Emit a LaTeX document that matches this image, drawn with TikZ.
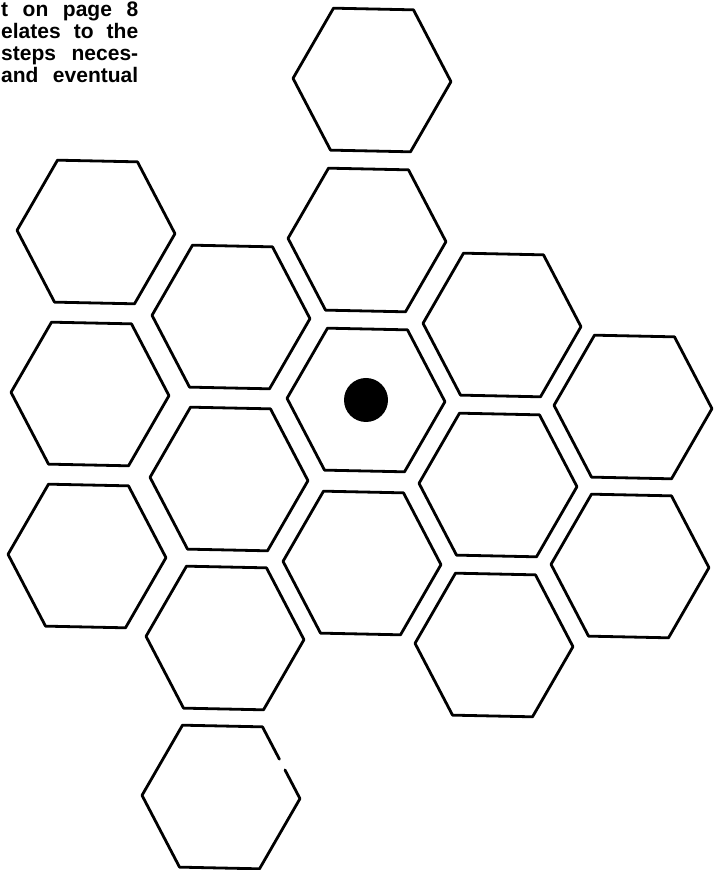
\documentclass[tikz,border=0pt]{standalone}
\usepackage{fontspec}
\setmainfont{Liberation Sans}
\begin{document}
\begin{tikzpicture}[x=1pt,y=1pt,
  hexline/.style={line width=2.8pt,line join=round,line cap=round},
  bodytext/.style={anchor=base west,inner sep=0pt,font=\fontsize{21}{22}\selectfont\bfseries},
  hexcell/.pic={\draw[hexline,rotate=-1.2] (-79,0) -- (-40,71) -- (40,71) -- (79,0) -- (40,-71) -- (-40,-71) -- cycle;}
]
\useasboundingbox (0,0) rectangle (717,870);
% text (screen y -> 870 - y)
\node[bodytext] (t1) at (1,853.5) {\makebox[137pt][s]{t on page 8}};
\node[bodytext] (t2) at (1,831.5) {\makebox[137pt][s]{elates to the}};
\node[bodytext] (t3) at (1,809.5) {\makebox[137pt][s]{steps neces-}};
\node[bodytext] (t4) at (1,787.5) {\makebox[137pt][s]{and eventual}};
% hexagons: centre (x, 870 - y)
\pic (h1) at (372,790) {hexcell};
\pic (h2) at (367,630) {hexcell};
\pic (h3) at (366,470) {hexcell};
\pic (h4) at (362,307) {hexcell};
\pic (h5) at (502,545) {hexcell};
\pic (h6) at (498,385) {hexcell};
\pic (h7) at (494,225) {hexcell};
\pic (h8) at (633,463) {hexcell};
\pic (h9) at (630,304) {hexcell};
\pic (h10) at (96,638) {hexcell};
\pic (h11) at (90,476) {hexcell};
\pic (h12) at (87,314) {hexcell};
\pic (h13) at (231,553) {hexcell};
\pic (h14) at (229,391) {hexcell};
\pic (h15) at (225,232) {hexcell};
% bottom hexagon with a small break in its upper right side
\begin{scope}[shift={(221,73)},rotate=-1.2]
  \draw[hexline] (63.4,28.4) -- (79,0) -- (40,-71) -- (-40,-71) -- (-79,0) -- (-40,71) -- (40,71) -- (57.6,39);
\end{scope}
% dot in the centre hexagon
\fill (366,470) circle (22);
\end{tikzpicture}
\end{document}
